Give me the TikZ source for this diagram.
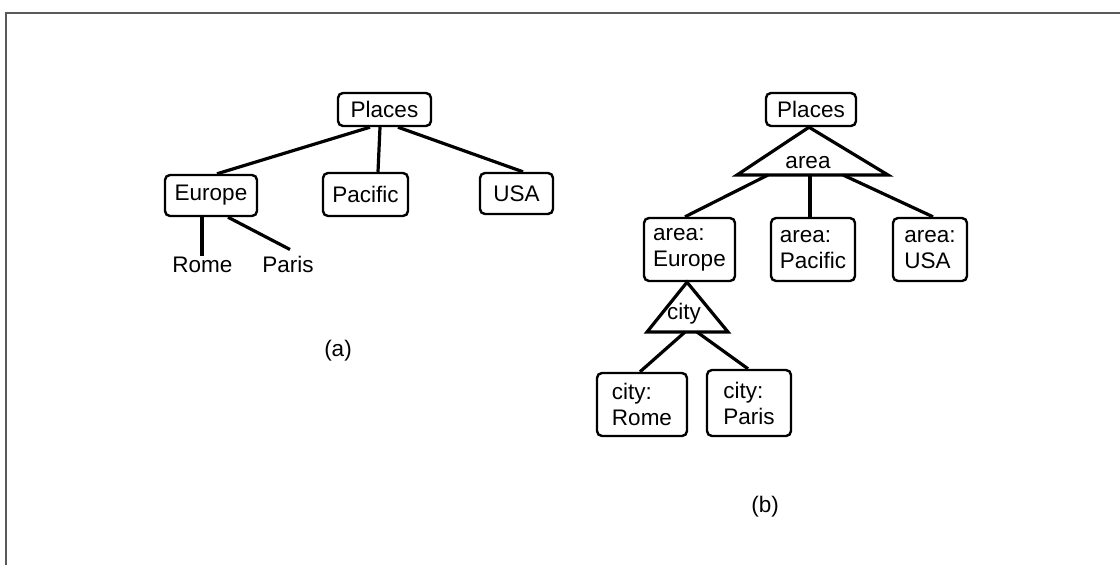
\documentclass[tikz,border=0pt]{standalone}
\usepackage{fontspec}
\setmainfont{Liberation Sans}
\begin{document}
\begin{tikzpicture}[x=1pt,y=-1pt,
  every node/.style={font=\fontsize{22.5}{26}\selectfont, inner sep=0pt},
  box/.style={draw, line width=2.4pt, rounded corners=5pt, align=left},
  link/.style={line width=3.2pt},
  tri/.style={draw, line width=3.2pt, line join=miter},
  frame/.style={draw=black!65, line width=1.5pt}]
\useasboundingbox (0,0) rectangle (1120,565);
\draw[frame] (6,565) -- (6,13) -- (1120,13);

% ---------- (a) plain hierarchy ----------
\node[box, minimum width=93, minimum height=33] (pa) at (384.5,109.5) {Places};
\node[box, minimum width=92, minimum height=41] (eu) at (211,195.5) {Europe};
\node[box, minimum width=85, minimum height=43] (pac) at (365.5,194.5) {Pacific};
\node[box, minimum width=73, minimum height=41] (usa) at (516.5,193.5) {USA};
\node[anchor=base] (rome) at (202.5,272) {Rome};
\node[anchor=base] (paris) at (288,272) {Paris};
\node (capa) at (338,351) {(a)};

\draw[link] ([xshift=-14.5pt]pa.south) -- ([xshift=6pt]eu.north);
\draw[link] ([xshift=-4.5pt]pa.south) -- ([xshift=12.5pt]pac.north);
\draw[link] ([xshift=13.5pt]pa.south) -- ([xshift=6.5pt]usa.north);
\draw[link] ([xshift=-9pt]eu.south) -- ([xshift=-0.5pt]rome.north);
\draw[link] ([xshift=17pt]eu.south) -- ([xshift=2pt,yshift=6pt]paris.north);

% ---------- (b) hierarchy with attribute triangles ----------
\node[box, minimum width=90, minimum height=33] (pb) at (811,109.5) {Places};
\node[box, minimum width=91, minimum height=63] (ae) at (689.5,249.5) {area:\\Europe};
\node[box, minimum width=84, minimum height=63] (ap) at (813,249.5) {area:\\Pacific};
\node[box, minimum width=74, minimum height=63] (au) at (930,249.5) {area:\\USA};
\node[box, minimum width=90, minimum height=63] (cr) at (642,404.5) {city:\\Rome};
\node[box, minimum width=84, minimum height=66] (cp) at (749,403) {city:\\Paris};
\node (capb) at (765,507) {(b)};

% area triangle
\coordinate (atop) at ([xshift=-2pt]pb.south);
\coordinate (aleft) at (737,175);
\coordinate (aright) at (888,175);
\draw[tri] (atop) -- (aleft) -- (aright) -- cycle;
\node[anchor=base] (alabel) at (808,168) {area};
\coordinate (ab1) at (768,175);
\coordinate (ab2) at (810,175);
\coordinate (ab3) at (843,175);
\draw[link] (ab1) -- ([xshift=-4.5pt]ae.north);
\draw[link] (ab2) -- ([xshift=-3pt]ap.north);
\draw[link] (ab3) -- ([xshift=3pt]au.north);

% city triangle
\coordinate (ctop) at ([xshift=-2.5pt]ae.south);
\coordinate (cleft) at (647,332);
\coordinate (cright) at (728,332);
\draw[tri] (ctop) -- (cleft) -- (cright) -- cycle;
\node (clabel) at (684,314) {city};
\coordinate (cb1) at (685,332);
\coordinate (cb2) at (697,332);
\draw[link] (cb1) -- ([xshift=-2pt]cr.north);
\draw[link] (cb2) -- ([xshift=-1pt]cp.north);
\end{tikzpicture}
\end{document}
